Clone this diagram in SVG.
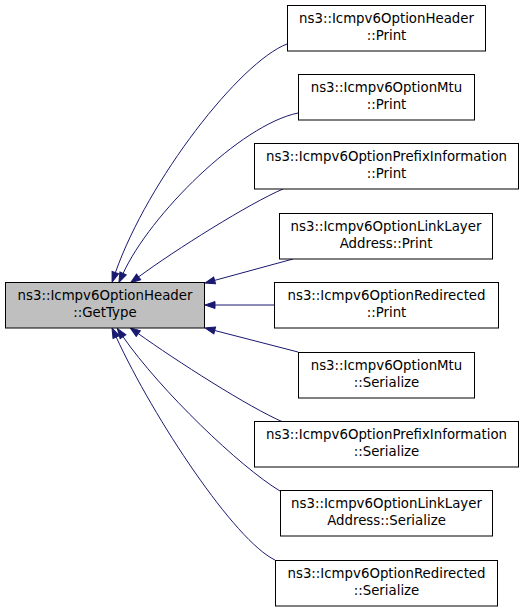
<svg xmlns="http://www.w3.org/2000/svg" width="525" height="611" viewBox="0 0 525 611">
<style>
.n rect{fill:#fff;stroke:#000;stroke-width:1}
.n.main rect{fill:#bfbfbf}
.n text{font-family:"DejaVu Sans",sans-serif;font-size:13.33px;fill:#000;text-anchor:middle}
.e path{fill:none;stroke:#191970;stroke-width:1}
</style>
<defs>
<marker id="ah" markerUnits="userSpaceOnUse" markerWidth="12" markerHeight="10" refX="0" refY="0" orient="auto" overflow="visible">
<path d="M0,-3.5 L10,0 L0,3.5 Z" fill="#191970" stroke="#191970" stroke-width="1"/>
</marker>
</defs>
<g class="e" id="edges">
<path marker-end="url(#ah)" d="M287,44 C240,62 148,180 115.4,272.6"/>
<path marker-end="url(#ah)" d="M298,113 C240,125 150,215 123.1,273.4"/>
<path marker-end="url(#ah)" d="M283,189 C250,203 175,250 138.6,276.9"/>
<path marker-end="url(#ah)" d="M293,259 L214.6,280.4"/>
<path marker-end="url(#ah)" d="M275,305 L215,305"/>
<path marker-end="url(#ah)" d="M298,352 L214.7,330.5"/>
<path marker-end="url(#ah)" d="M283,422 C250,408 175,360 138.3,333.6"/>
<path marker-end="url(#ah)" d="M280,491 C240,467 160,390 123,336.7"/>
<path marker-end="url(#ah)" d="M275,560 C235,541 154,419 116.2,337.1"/>
</g>
<g class="n main" id="node_gettype"><rect x="5.5" y="282.5" width="199" height="45.5"/><text x="105" y="300">ns3::Icmpv6OptionHeader</text><text x="105" y="317">::GetType</text></g>
<g class="n" id="node_header_print"><rect x="287.5" y="5.5" width="198" height="45.5"/><text x="386.5" y="23">ns3::Icmpv6OptionHeader</text><text x="386.5" y="40">::Print</text></g>
<g class="n" id="node_mtu_print"><rect x="298.5" y="74.5" width="176" height="45.5"/><text x="386.5" y="92">ns3::Icmpv6OptionMtu</text><text x="386.5" y="109">::Print</text></g>
<g class="n" id="node_prefix_print"><rect x="254.5" y="143.5" width="264" height="45.5"/><text x="386.5" y="161">ns3::Icmpv6OptionPrefixInformation</text><text x="386.5" y="178">::Print</text></g>
<g class="n" id="node_linklayer_print"><rect x="279.5" y="213.5" width="213" height="45.5"/><text x="386" y="231">ns3::Icmpv6OptionLinkLayer</text><text x="386" y="248">Address::Print</text></g>
<g class="n" id="node_redirected_print"><rect x="274.5" y="282.5" width="224" height="45.5"/><text x="386.5" y="300">ns3::Icmpv6OptionRedirected</text><text x="386.5" y="317">::Print</text></g>
<g class="n" id="node_mtu_serialize"><rect x="298.5" y="352.5" width="176" height="45.5"/><text x="386.5" y="370">ns3::Icmpv6OptionMtu</text><text x="386.5" y="387">::Serialize</text></g>
<g class="n" id="node_prefix_serialize"><rect x="254.5" y="421.5" width="264" height="45.5"/><text x="386.5" y="439">ns3::Icmpv6OptionPrefixInformation</text><text x="386.5" y="456">::Serialize</text></g>
<g class="n" id="node_linklayer_serialize"><rect x="280.5" y="490.5" width="212" height="45.5"/><text x="386.5" y="508">ns3::Icmpv6OptionLinkLayer</text><text x="386.5" y="525">Address::Serialize</text></g>
<g class="n" id="node_redirected_serialize"><rect x="275.5" y="560.5" width="222" height="45.5"/><text x="386.5" y="578">ns3::Icmpv6OptionRedirected</text><text x="386.5" y="595">::Serialize</text></g>
</svg>
